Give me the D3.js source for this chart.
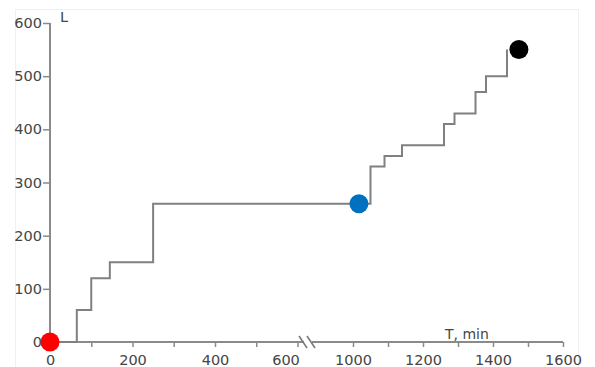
<!DOCTYPE html>
<html>
<head>
<meta charset="utf-8">
<script src="https://cdn.jsdelivr.net/npm/d3@7"></script>
<style>
  html, body { margin: 0; padding: 0; background: #fff; }
  svg { display: block; }
</style>
</head>
<body>
<svg id="chart" width="595" height="367"></svg>
<script>
// Cumulative value L against time T (minutes), drawn as a step line
const stepTimes  = [0, 65, 100, 145, 250, 1050, 1090, 1140, 1260, 1290, 1350, 1380, 1440];
const stepValues = [0, 60, 120, 150, 260, 330, 350, 370, 410, 430, 470, 500, 550];

// Marker points
const markerTimes  = [0, 1017, 1474];
const markerValues = [0, 260, 550];
const markerColors = ["#ff0000", "#0070c0", "#000000"];

// Axis ticks (x axis has a break between 600 and 1000)
const xTickValues = [0, 100, 200, 300, 400, 500, 600, 1000, 1100, 1200, 1300, 1400, 1500, 1600];
const xTickLabels = [0, 200, 400, 600, 1000, 1200, 1400, 1600];
const yTickValues = [0, 100, 200, 300, 400, 500, 600];

const svg = d3.select("#chart");
const axisColor = "#8a8a8a";
const textColor = "#454545";
const fontFamily = "'DejaVu Sans', Verdana, sans-serif";
const fontSize = 14.5;

// faint frame
svg.append("rect")
  .attr("x", 15.5).attr("y", 9.5).attr("width", 563).attr("height", 360)
  .attr("fill", "none").attr("stroke", "#f0f0f0");

// Broken x scale: two linear segments joined across the gap
const x = d3.scaleLinear()
  .domain([0, 600, 1000, 1600])
  .range([50, 297.5, 353, 563]);
const y = d3.scaleLinear().domain([0, 600]).range([342, 23]);

// X axis
const xAxis = d3.axisBottom(x)
  .tickValues(xTickValues)
  .tickSize(5)
  .tickPadding(8)
  .tickFormat(d => xTickLabels.includes(d) ? d : "");
const gx = svg.append("g").attr("transform", `translate(0,${y(0)})`).call(xAxis)
  .attr("font-family", fontFamily).attr("font-size", fontSize);
gx.select(".domain").attr("stroke", axisColor).attr("stroke-width", 2)
  .attr("d", `M${x(0)},0H${x(1600)}`);
gx.selectAll(".tick line").attr("stroke", axisColor).attr("stroke-width", 1.5);
gx.selectAll(".tick text")
  .attr("fill", textColor)
  .attr("dx", d => d === 600 ? -12 : 0);

// Y axis
const yAxis = d3.axisLeft(y).tickValues(yTickValues).tickSize(7).tickPadding(1);
const gy = svg.append("g").attr("transform", `translate(${x(0)},0)`).call(yAxis)
  .attr("font-family", fontFamily).attr("font-size", fontSize);
gy.select(".domain").attr("stroke", axisColor).attr("stroke-width", 2)
  .attr("d", `M0,${y(0)}V${y(600)}`);
gy.selectAll(".tick line").attr("stroke", axisColor).attr("stroke-width", 1.5);
gy.selectAll(".tick text").attr("fill", textColor);

// Axis break marks
const bx = 306, by = y(0);
svg.append("rect").attr("x", bx - 2).attr("y", by - 3).attr("width", 8).attr("height", 6).attr("fill", "#fff");
[bx - 4, bx + 4].forEach(cx => {
  svg.append("line")
    .attr("x1", cx - 3).attr("y1", by - 6).attr("x2", cx + 5).attr("y2", by + 6)
    .attr("stroke", "#777").attr("stroke-width", 1.5);
});

// Axis titles
svg.append("text").attr("x", 60).attr("y", 22)
  .attr("font-family", fontFamily).attr("font-size", fontSize)
  .attr("fill", textColor).text("L");
svg.append("text").attr("x", 445).attr("y", 339)
  .attr("font-family", fontFamily).attr("font-size", 14)
  .attr("fill", textColor).text("T, min");

// Step line
const steps = stepTimes.map((t, i) => [t, stepValues[i]]);
const line = d3.line().x(d => x(d[0])).y(d => y(d[1])).curve(d3.curveStepAfter);
svg.append("path").datum(steps)
  .attr("d", line)
  .attr("fill", "none")
  .attr("stroke", "#808080")
  .attr("stroke-width", 2);

// Markers
svg.selectAll("circle.marker")
  .data(markerTimes.map((t, i) => ({ t, v: markerValues[i], c: markerColors[i] })))
  .join("circle")
  .attr("class", "marker")
  .attr("cx", d => x(d.t))
  .attr("cy", d => y(d.v))
  .attr("r", 9.5)
  .attr("fill", d => d.c);
</script>
</body>
</html>
